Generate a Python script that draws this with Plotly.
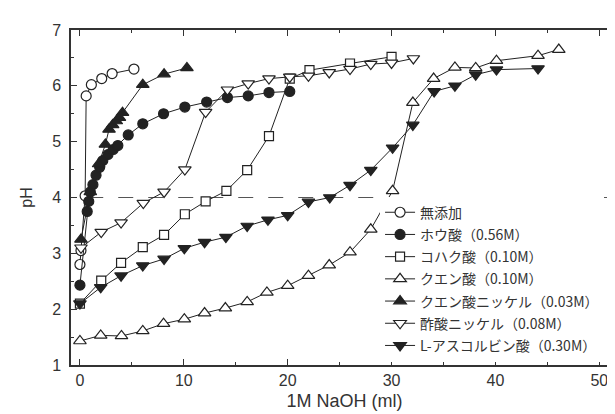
import plotly.graph_objects as go

# ---- data ----
names = ["無添加", "ホウ酸（0.56M）", "コハク酸（0.10M）", "クエン酸（0.10M）",
         "クエン酸ニッケル（0.03M）", "酢酸ニッケル（0.08M）", "L-アスコルビン酸（0.30M）"]

none_x = [0.0, 0.1, 0.5, 0.6, 1.1, 2.1, 3.1, 5.2]
none_y = [2.8, 3.05, 4.03, 5.82, 6.02, 6.13, 6.22, 6.3]

boric_x = [0.0, 0.7, 0.85, 1.0, 1.25, 1.55, 1.9, 2.2, 2.7, 3.2, 3.65, 4.65, 6.05, 8.05,
           10.1, 12.2, 14.2, 16.2, 18.2, 20.2]
boric_y = [2.43, 3.75, 3.93, 4.1, 4.23, 4.4, 4.54, 4.66, 4.77, 4.86, 4.93, 5.12, 5.32, 5.5,
           5.62, 5.71, 5.79, 5.82, 5.88, 5.9]

succ_x = [0.0, 2.05, 3.96, 6.05, 8.1, 10.1, 12.1, 14.1, 16.1, 18.2, 20.2, 22.1, 26.0, 30.0]
succ_y = [2.1, 2.51, 2.83, 3.11, 3.33, 3.7, 3.93, 4.12, 4.49, 5.1, 6.13, 6.28, 6.4, 6.52]

citric_x = [0.0, 2.0, 4.0, 6.05, 8.05, 10.05, 12.0, 14.0, 16.1, 18.0, 20.0, 22.0, 24.0, 26.0,
            28.0, 30.1, 32.05, 34.05, 36.1, 38.1, 40.1, 44.1, 46.1]
citric_y = [1.43, 1.53, 1.52, 1.61, 1.74, 1.82, 1.93, 2.02, 2.13, 2.3, 2.42, 2.6, 2.79, 3.02,
            3.43, 4.12, 5.7, 6.13, 6.33, 6.32, 6.45, 6.54, 6.65]

nicit_x = [0.1, 1.0, 1.8, 2.45, 2.8, 3.15, 3.5, 3.8, 4.1, 6.05, 8.1, 10.3]
nicit_y = [3.25, 4.1, 4.6, 4.95, 5.22, 5.3, 5.37, 5.43, 5.52, 6.02, 6.21, 6.32]

niac_x = [0.1, 2.05, 3.96, 6.1, 8.1, 10.1, 12.1, 14.2, 16.2, 18.2, 20.2, 22.0, 24.0, 26.0,
          28.0, 30.0, 32.1]
niac_y = [3.1, 3.38, 3.55, 3.9, 4.1, 4.5, 5.53, 5.93, 6.04, 6.13, 6.16, 6.18, 6.24, 6.3,
          6.39, 6.41, 6.49]

asc_x = [0.0, 2.0, 3.96, 6.05, 8.1, 10.05, 12.0, 14.05, 16.1, 18.1, 20.0, 22.0, 24.05, 26.0,
         28.0, 30.1, 32.05, 34.1, 36.1, 38.1, 40.1, 44.1]
asc_y = [2.1, 2.39, 2.6, 2.78, 2.9, 3.09, 3.2, 3.29, 3.49, 3.6, 3.68, 3.92, 4.0, 4.22,
         4.49, 4.89, 5.3, 5.9, 6.0, 6.2, 6.29, 6.31]

ref_ph = 4.0
x_ticks = [0, 10, 20, 30, 40, 50]
y_ticks = [1, 2, 3, 4, 5, 6, 7]

# ---- figure ----
LINE = "#222"
series = [
    (none_x, none_y, "circle", "white", 10),
    (boric_x, boric_y, "circle", LINE, 10),
    (succ_x, succ_y, "square", "white", 9),
    (citric_x, citric_y, "triangle-up", "white", 11),
    (nicit_x, nicit_y, "triangle-up", LINE, 11),
    (niac_x, niac_y, "triangle-down", "white", 11),
    (asc_x, asc_y, "triangle-down", LINE, 11),
]

fig = go.Figure()
fig.add_shape(type="line", xref="x", yref="y", x0=0.8, x1=52, y0=ref_ph, y1=ref_ph,
              line=dict(color="#555", width=1, dash="longdash"), layer="below")

for i, (xs, ys, sym, fill, sz) in enumerate(series):
    fig.add_trace(go.Scatter(
        x=xs, y=ys, name=names[i], mode="lines+markers",
        legendgroup=str(i),
        line=dict(color=LINE, width=1),
        marker=dict(symbol=sym, size=sz, color=fill,
                    line=dict(color=LINE, width=1.2)),
    ))

axis_common = dict(showline=True, linecolor="#333", linewidth=1.5, mirror="ticks",
                   ticks="inside", tickcolor="#333", showgrid=False, zeroline=False,
                   tickfont=dict(family="Liberation Sans, Arial", size=16, color="#333"))

fig.update_xaxes(range=[-0.86, 51.8], tickvals=x_ticks, ticklen=6,
                 minor=dict(dtick=5, tick0=0, ticklen=3, ticks="inside", tickcolor="#333"),
                 title=dict(text="1M NaOH (ml)", standoff=6,
                            font=dict(family="Liberation Sans, Arial", size=18, color="#333")),
                 **axis_common)
fig.update_yaxes(range=[1, 7], tickvals=y_ticks, ticklen=6, ticklabelstandoff=5,
                 minor=dict(dtick=0.5, tick0=0, ticklen=3, ticks="inside", tickcolor="#333"),
                 title=dict(text="pH", standoff=16,
                            font=dict(family="Liberation Sans, Arial", size=16, color="#333")),
                 **axis_common)

fig.update_layout(
    width=615, height=414,
    margin=dict(l=63, r=3, t=22, b=57),
    plot_bgcolor="white", paper_bgcolor="white",
    legend=dict(x=0.565, y=0.01, xanchor="left", yanchor="bottom",
                bgcolor="white", borderwidth=0, tracegroupgap=1,
                font=dict(family="Noto Sans CJK JP", size=14, color="#333")),
)

fig.write_html("out.html")
